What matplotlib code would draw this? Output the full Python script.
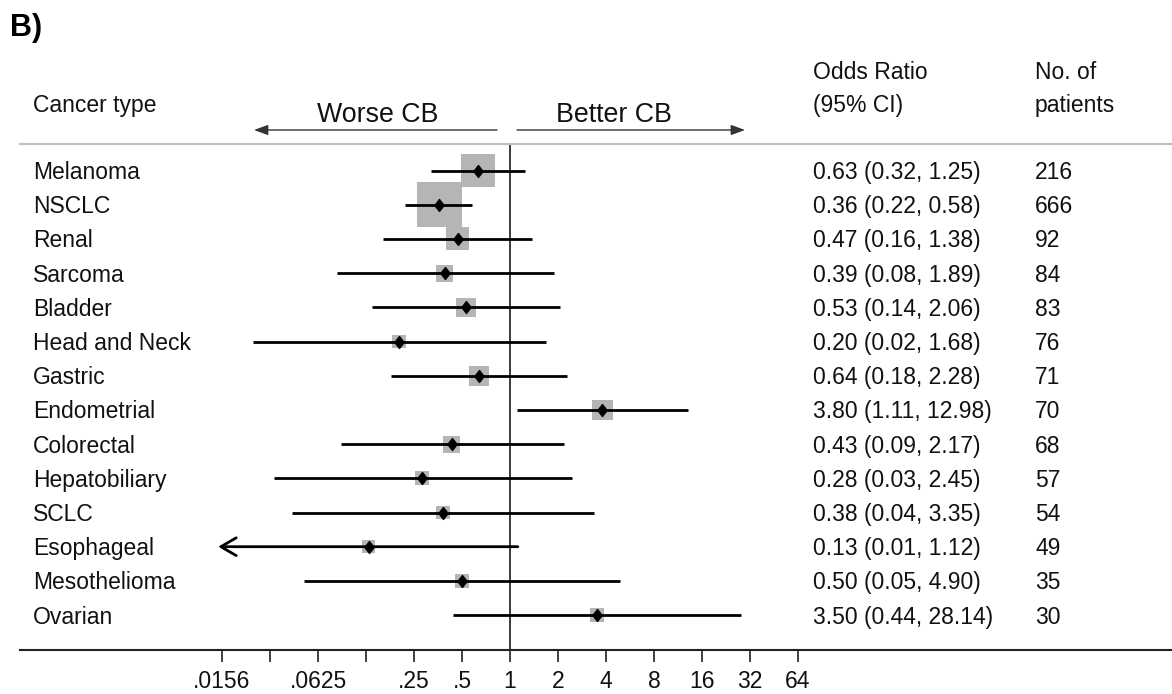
import numpy as np
import matplotlib
matplotlib.use("Agg")
import matplotlib.pyplot as plt
from matplotlib import transforms
from matplotlib.path import Path
from matplotlib.ticker import NullLocator

# ---- data -------------------------------------------------------------
cancer_types = ["Melanoma", "NSCLC", "Renal", "Sarcoma", "Bladder",
                "Head and Neck", "Gastric", "Endometrial", "Colorectal",
                "Hepatobiliary", "SCLC", "Esophageal", "Mesothelioma",
                "Ovarian"]
odds_ratio = [0.63, 0.36, 0.47, 0.39, 0.53, 0.20, 0.64, 3.80, 0.43, 0.28,
              0.38, 0.13, 0.50, 3.50]
ci_low = [0.32, 0.22, 0.16, 0.082, 0.136, 0.0245, 0.179, 1.11, 0.087,
          0.033, 0.043, 0.01, 0.051, 0.44]
ci_high = [1.25, 0.58, 1.38, 1.89, 2.06, 1.68, 2.28, 12.98, 2.17, 2.45,
           3.35, 1.12, 4.90, 28.14]
n_patients = [216, 666, 92, 84, 83, 76, 71, 70, 68, 57, 54, 49, 35, 30]

tick_values = [2.0 ** k for k in range(-6, 7)]
tick_labels = [".0156", "", ".0625", "", ".25", ".5", "1", "2", "4", "8",
               "16", "32", "64"]

# ---- figure geometry (pixels at dpi=100) ------------------------------
W, H = 1172, 694
DPI = 100
plt.rcParams["font.family"] = ["Liberation Sans", "DejaVu Sans"]
FS = 16.5
TXT = "#111111"

fig = plt.figure(figsize=(W / DPI, H / DPI), dpi=DPI)


def fx(px):
    return px / W


def fy(py):
    return 1 - py / H


# plot panel: from the header rule down to the x axis
top_px, bottom_px, left_px = 144, 650, 20
null_px, per_doubling = 510, 48
row0_px, row_step = 170.5, 34.2

ax = fig.add_axes([fx(left_px), fy(bottom_px), 1 - fx(left_px),
                   fy(top_px) - fy(bottom_px)])
ax.set_xscale("log", base=2)
ax.set_xlim(2 ** ((left_px - null_px) / per_doubling),
            2 ** ((W - null_px) / per_doubling))
ax.set_ylim((bottom_px - row0_px) / row_step, (top_px - row0_px) / row_step)

for side in ("left", "right"):
    ax.spines[side].set_visible(False)
ax.spines["top"].set_color("#bdbdbd")
ax.spines["top"].set_linewidth(1.6)
ax.spines["bottom"].set_color("#222222")
ax.spines["bottom"].set_linewidth(1.5)

ax.set_xticks(tick_values)
ax.set_xticklabels(tick_labels)
ax.xaxis.set_minor_locator(NullLocator())
ax.tick_params(axis="x", direction="out", length=8.6, width=1.2,
               color="#222222", pad=6, labelsize=FS, labelcolor=TXT)
ax.set_yticks([])

rows = np.arange(len(cancer_types))
or_arr = np.array(odds_ratio)
lo_arr = np.array(ci_low)
hi_arr = np.array(ci_high)

# line of no effect
ax.axvline(1, color="#3a3a3a", lw=1.4, zorder=1)

# weight boxes (inverse-variance weights from the CI width)
se = (np.log(hi_arr) - np.log(lo_arr)) / (2 * 1.96)
weight = 1 / se ** 2
box_px = 4.75 + 9.94 * np.sqrt(weight)
box_pt = box_px * 72 / DPI
ax.scatter(or_arr, rows, s=box_pt ** 2, marker="s", color="#b5b5b5",
           linewidths=0, zorder=2)

# confidence intervals, with an arrow where they leave the scale
x_floor = tick_values[0] * 2 ** (-0.08)
for y, lo, hi in zip(rows, lo_arr, hi_arr):
    if lo < x_floor:
        ax.annotate("", xy=(x_floor, y), xytext=(hi, y),
                    arrowprops=dict(arrowstyle="->,head_length=0.55,head_width=0.32",
                                    lw=2.0, color="black", shrinkA=0,
                                    shrinkB=0, mutation_scale=20),
                    zorder=3)
    else:
        ax.plot([lo, hi], [y, y], color="black", lw=2.0,
                solid_capstyle="butt", zorder=3)

# point estimates
diamond = Path([(0, 1), (0.78, 0), (0, -1), (-0.78, 0), (0, 1)],
               [Path.MOVETO, Path.LINETO, Path.LINETO, Path.LINETO,
                Path.CLOSEPOLY])
ax.plot(or_arr, rows, linestyle="none", marker=diamond, ms=8.6,
        color="black", zorder=4)

# text columns
row_text = transforms.blended_transform_factory(fig.transFigure, ax.transData)
base_off = 8.5 / row_step
for y, name, o, lo, hi, n in zip(rows, cancer_types, or_arr, lo_arr,
                                 hi_arr, n_patients):
    ax.text(fx(33), y + base_off, name, transform=row_text, ha="left",
            va="baseline", fontsize=FS, color=TXT)
    ax.text(fx(813), y + base_off, f"{o:.2f} ({lo:.2f}, {hi:.2f})",
            transform=row_text, ha="left", va="baseline", fontsize=FS,
            color=TXT)
    ax.text(fx(1035), y + base_off, f"{n}", transform=row_text, ha="left",
            va="baseline", fontsize=FS, color=TXT)

# header
fig.text(fx(10), fy(36), "B)", fontsize=22, fontweight="bold",
         ha="left", va="baseline", color="black")
fig.text(fx(33), fy(112), "Cancer type", fontsize=FS, ha="left",
         va="baseline", color=TXT)
fig.text(fx(813), fy(79), "Odds Ratio", fontsize=FS, ha="left",
         va="baseline", color=TXT)
fig.text(fx(813), fy(112), "(95% CI)", fontsize=FS, ha="left",
         va="baseline", color=TXT)
fig.text(fx(1035), fy(79), "No. of", fontsize=FS, ha="left",
         va="baseline", color=TXT)
fig.text(fx(1035), fy(112), "patients", fontsize=FS, ha="left",
         va="baseline", color=TXT)
fig.text(fx(378), fy(122), "Worse CB", fontsize=19.3, ha="center",
         va="baseline", color=TXT)
fig.text(fx(614), fy(122), "Better CB", fontsize=19.3, ha="center",
         va="baseline", color=TXT)

arrow_kw = dict(arrowstyle="-|>,head_length=0.6,head_width=0.22",
                lw=1.0, color="#333333", shrinkA=0, shrinkB=0,
                mutation_scale=14)
fig.add_artist(matplotlib.patches.FancyArrowPatch(
    (fx(497), fy(130)), (fx(254), fy(130)), transform=fig.transFigure,
    **arrow_kw))
fig.add_artist(matplotlib.patches.FancyArrowPatch(
    (fx(517), fy(130)), (fx(745), fy(130)), transform=fig.transFigure,
    **arrow_kw))

fig.savefig("out.png", dpi=DPI, facecolor="white")
